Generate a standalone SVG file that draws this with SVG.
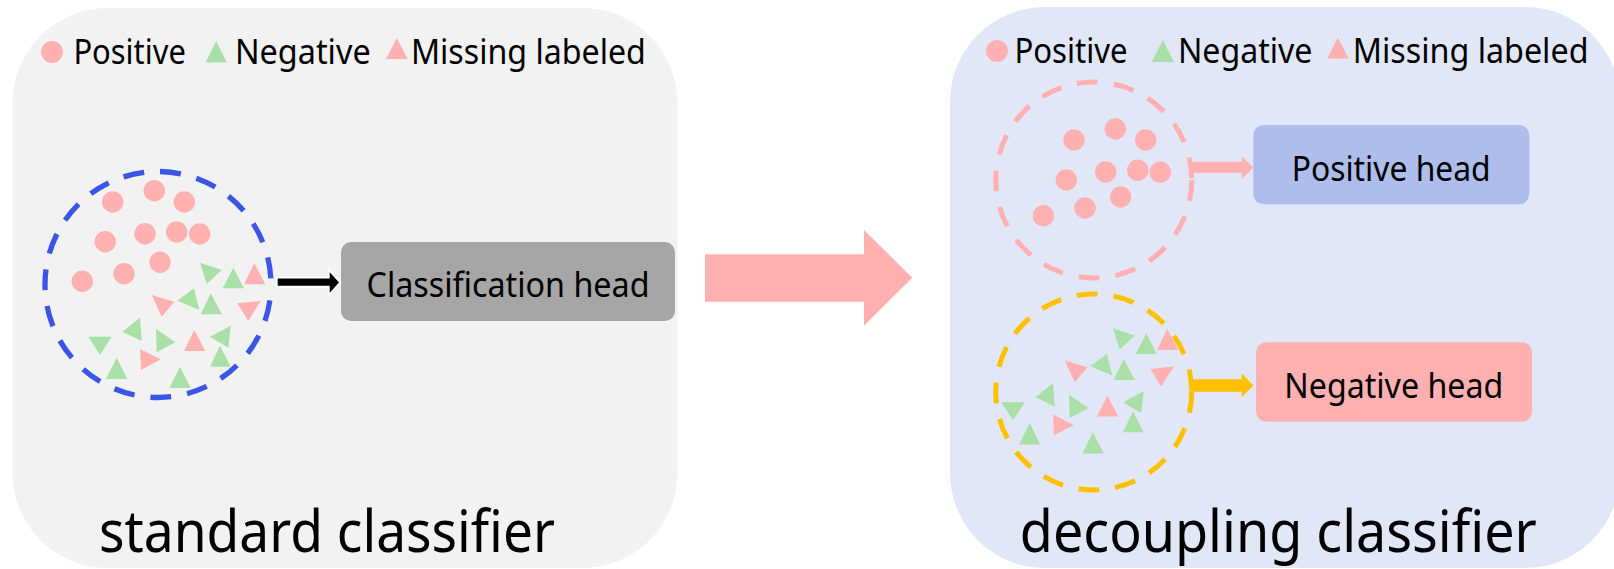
<svg xmlns="http://www.w3.org/2000/svg" xmlns:xlink="http://www.w3.org/1999/xlink" width="1614" height="569" viewBox="0 0 1614 569">
<style>
  text { font-family: "Noto Sans", "Open Sans", "Liberation Sans", sans-serif; fill: #000; }
  .leg { font-size: 34px; }
  .head { font-size: 35px; }
  .title { font-size: 58px; }
  .pink { fill: #ffb0b0; }
  .green { fill: #a8e0a8; }
  .dash { fill: none; stroke-dasharray: 21 16; }
</style>
<defs>
  <g id="dots-l">
    <circle class="pink" cx="112.7" cy="202" r="10.7"/>
    <circle class="pink" cx="154.3" cy="190.7" r="10.7"/>
    <circle class="pink" cx="184.3" cy="202" r="10.7"/>
    <circle class="pink" cx="105.3" cy="241.7" r="10.7"/>
    <circle class="pink" cx="145" cy="233.7" r="10.7"/>
    <circle class="pink" cx="176.7" cy="232" r="10.7"/>
    <circle class="pink" cx="199.7" cy="234" r="10.7"/>
    <circle class="pink" cx="160" cy="262.3" r="10.7"/>
    <circle class="pink" cx="124" cy="273.7" r="10.7"/>
    <circle class="pink" cx="82.3" cy="281.3" r="10.7"/>
  </g>
  <g id="tris">
    <polygon class="green" points="200,262.7 221.7,270 206.7,284"/>
    <polygon class="green" points="233.3,267.7 244,288.3 222.7,288.3"/>
    <polygon class="pink" points="254.3,263.3 265.3,284.3 244,284.3"/>
    <polygon class="pink" points="151.7,295 174.3,301.7 161.7,316.7"/>
    <polygon class="green" points="194,288.3 199.3,310 177.3,300.7"/>
    <polygon class="green" points="210.7,293.3 221.7,314.3 200.7,314.3"/>
    <polygon class="pink" points="237.3,303.3 260.7,301 248.3,321"/>
    <polygon class="green" points="140,317.7 141.7,341 122.3,331.7"/>
    <polygon class="green" points="88.3,336.7 111.7,336.7 100,355"/>
    <polygon class="green" points="156,329 175.3,342.3 156.7,352.3"/>
    <polygon class="pink" points="194.3,330 205.3,351 184,351"/>
    <polygon class="green" points="230.7,325.7 228.3,347.7 210,336.7"/>
    <polygon class="pink" points="140,349 160.7,359.3 141,370"/>
    <polygon class="green" points="116.7,357.7 127.3,379 106,379"/>
    <polygon class="green" points="220,345.7 230.7,366.7 210,366.7"/>
    <polygon class="green" points="180,366.7 190.7,388 169.3,388"/>
  </g>
</defs>

<g id="panel-standard">
  <rect x="12.5" y="8" width="665" height="560" rx="95" ry="95" fill="#f2f2f2"/>
  <g id="legend-standard">
    <circle class="pink" cx="52" cy="52" r="10.9"/>
    <text class="leg" x="73.4" y="64" textLength="112.5" lengthAdjust="spacingAndGlyphs">Positive</text>
    <polygon class="green" points="216.2,41 226.9,62.5 205.6,62.5"/>
    <text class="leg" x="234.9" y="64" textLength="135.8" lengthAdjust="spacingAndGlyphs">Negative</text>
    <polygon class="pink" points="396.8,38 407.7,59 386,59"/>
    <text class="leg" x="410.9" y="64" textLength="235" lengthAdjust="spacingAndGlyphs">Missing labeled</text>
  </g>
  <text class="title" x="99" y="552" textLength="456" lengthAdjust="spacingAndGlyphs">standard classifier</text>
</g>

<g id="panel-decoupling">
  <rect x="950" y="7" width="670" height="561" rx="95" ry="95" fill="#e1e7f7"/>
  <g id="legend-decoupling">
    <circle class="pink" cx="997" cy="51" r="10.9"/>
    <text class="leg" x="1014.4" y="63" textLength="113.3" lengthAdjust="spacingAndGlyphs">Positive</text>
    <polygon class="green" points="1162.8,40 1173.9,62 1151.8,62"/>
    <text class="leg" x="1177.9" y="63" textLength="134.6" lengthAdjust="spacingAndGlyphs">Negative</text>
    <polygon class="pink" points="1337.8,37.5 1348.6,58.5 1327,58.5"/>
    <text class="leg" x="1352.7" y="63" textLength="235.8" lengthAdjust="spacingAndGlyphs">Missing labeled</text>
  </g>
  <text class="title" x="1019.8" y="552" textLength="517" lengthAdjust="spacingAndGlyphs">decoupling classifier</text>
</g>

<g id="cluster-mixed">
  <use xlink:href="#dots-l"/>
  <use xlink:href="#tris"/>
  <circle class="dash" cx="158" cy="284.5" r="113" stroke="#3b55e8" stroke-width="5.3" stroke-dashoffset="21"/>
</g>

<g id="cluster-positive">
  <circle class="pink" cx="1074" cy="140" r="10.7"/>
  <circle class="pink" cx="1115.3" cy="129" r="10.7"/>
  <circle class="pink" cx="1145.7" cy="140" r="10.7"/>
  <circle class="pink" cx="1066.3" cy="180" r="10.7"/>
  <circle class="pink" cx="1105.7" cy="172" r="10.7"/>
  <circle class="pink" cx="1137.7" cy="170.3" r="10.7"/>
  <circle class="pink" cx="1160.3" cy="172.3" r="10.7"/>
  <circle class="pink" cx="1120.7" cy="197" r="10.7"/>
  <circle class="pink" cx="1085" cy="208" r="10.7"/>
  <circle class="pink" cx="1043.3" cy="215.7" r="10.7"/>
  <circle class="dash" cx="1093.8" cy="180" r="98" stroke="#ffb0b0" stroke-width="5"/>
</g>

<g id="cluster-negative">
  <use xlink:href="#tris" transform="translate(913,65.6)"/>
  <circle class="dash" cx="1093.7" cy="392" r="98" stroke="#ffc000" stroke-width="5"/>
</g>

<g id="classification-head">
  <rect x="341" y="242" width="334" height="79" rx="10" ry="10" fill="#a6a6a6"/>
  <text class="head" x="366.5" y="297.3" textLength="283" lengthAdjust="spacingAndGlyphs">Classification head</text>
</g>

<g id="positive-head">
  <rect x="1253.3" y="125" width="276" height="79.3" rx="10" ry="10" fill="#aebdec"/>
  <text class="head" x="1291.7" y="180.7" textLength="199" lengthAdjust="spacingAndGlyphs">Positive head</text>
</g>

<g id="negative-head">
  <rect x="1256" y="342.3" width="276" height="79.4" rx="10" ry="10" fill="#ffb0b0"/>
  <text class="head" x="1284.3" y="397.7" textLength="219" lengthAdjust="spacingAndGlyphs">Negative head</text>
</g>

<g id="connectors">
  <polygon points="276.7,277.6 328.7,277.6 328.7,269.5 340.4,282.5 328.7,295.5 328.7,286.8 276.7,286.8" fill="#000" stroke="#fff" stroke-width="2" stroke-linejoin="miter"/>
  <polygon points="705,254.3 864,254.3 864,230 912.3,277.8 864,325.7 864,301.7 705,301.7" fill="#ffb0b0"/>
  <polygon points="1189.3,161.7 1241.7,161.7 1241.7,156 1253.3,167.5 1241.7,179.3 1241.7,172.7 1189.3,172.7" fill="#ffb0b0"/>
  <polygon points="1189.3,379.3 1241.7,379.3 1241.7,373.3 1253.3,385.4 1241.7,397.3 1241.7,391.7 1189.3,391.7" fill="#ffc000"/>
</g>
</svg>
